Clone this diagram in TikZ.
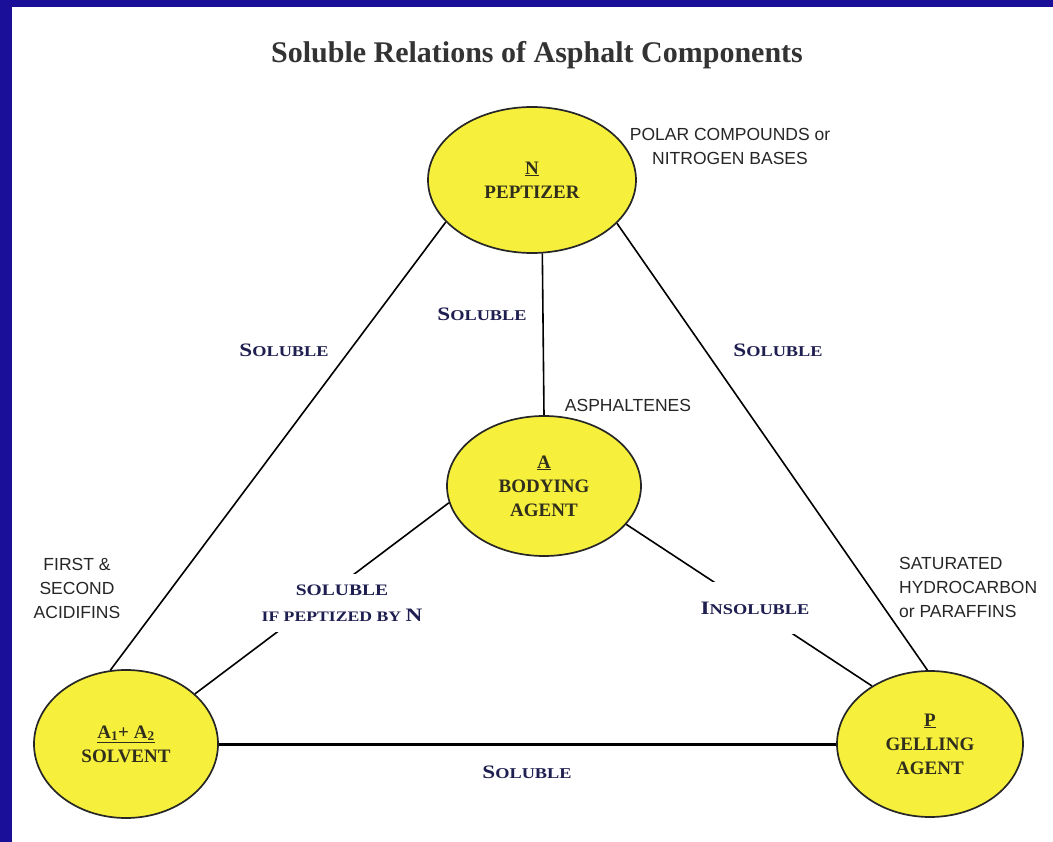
\documentclass[tikz,border=0pt]{standalone}
\usepackage{fontspec}
\setmainfont{Liberation Serif}
\newfontfamily\notefont{Liberation Sans}
\newfontfamily\widefont[FakeStretch=1.22]{Liberation Serif}
\usetikzlibrary{shapes.geometric}

\definecolor{slideblue}{RGB}{26,15,153}
\definecolor{blobyellow}{RGB}{246,240,60}
\definecolor{inkolive}{RGB}{48,46,28}
\definecolor{inknavy}{RGB}{30,30,80}

% big first letter, smaller rest
\newcommand{\smcap}[2]{{\fontsize{19}{19}\selectfont #1}{\fontsize{15}{15}\selectfont #2}}

\begin{document}
\begin{tikzpicture}[x=1pt, y=-1pt, line width=1.6pt,
  blob/.style={ellipse, draw=black!85, line width=1.7pt, fill=blobyellow, inner sep=0pt,
               align=center, text=inkolive, font=\bfseries\fontsize{19}{24}\selectfont},
  rel/.style={text=inknavy, align=center, font=\widefont\bfseries\fontsize{16}{26}\selectfont},
  note/.style={align=center, text=black!85, font=\notefont\fontsize{17.5}{24}\selectfont}]

% slide frame
\useasboundingbox (0,0) rectangle (1053,842);
\fill[slideblue] (0,0) rectangle (1053,842);
\fill[white] (12,7) rectangle (1053,842);

% title
\node[text=black!80, font=\bfseries\fontsize{30}{30}\selectfont] (title) at (537,55) {Soluble Relations of Asphalt Components};

% components
\node[blob, minimum width=208, minimum height=146] (N) at (532,180) {\underline{N}\\PEPTIZER};
\node[blob, minimum width=194, minimum height=140] (A) at (544,486) {\underline{A}\\BODYING\\AGENT};
\node[blob, minimum width=184, minimum height=148] (S) at (126,744) {\underline{A\textsubscript{1}+ A\textsubscript{2}}\\SOLVENT};
\node[blob, minimum width=186, minimum height=146] (P) at (930,744) {\underline{P}\\GELLING\\AGENT};

% connectors
\draw (N.206) -- (S.102);
\draw (N.333) -- (P.92);
\draw (N.278) -- (A.north);
\draw (A.190) -- (S.36);
\draw (A.335) -- (P.135);
\draw[line width=3pt] (S.east) -- (P.west);

% relation labels
\node[rel] (solNS) at (284,350) {\smcap{S}{OLUBLE}};
\node[rel] (solNA) at (482,314) {\smcap{S}{OLUBLE}};
\node[rel] (solNP) at (778,350) {\smcap{S}{OLUBLE}};
\node[rel] (solSP) at (527,772) {\smcap{S}{OLUBLE}};
\node[rel, fill=white, inner ysep=11pt] (solAS) at (342,603)
  {SOLUBLE\\{\fontsize{14.5}{14.5}\selectfont IF PEPTIZED BY }{\fontsize{19}{19}\selectfont N}};
\node[rel, fill=white, inner ysep=20pt] (insol) at (755,608) {\smcap{I}{NSOLUBLE}};

% side notes
\node[note] (polar) at (730,146) {POLAR COMPOUNDS or\\NITROGEN BASES};
\node[note] (asph) at (628,405) {ASPHALTENES};
\node[note] (acid) at (77,588) {FIRST \&\\SECOND\\ACIDIFINS};
\node[note, anchor=west, align=left] (paraf) at (895,587) {SATURATED\\HYDROCARBON\\or PARAFFINS};

\end{tikzpicture}
\end{document}
